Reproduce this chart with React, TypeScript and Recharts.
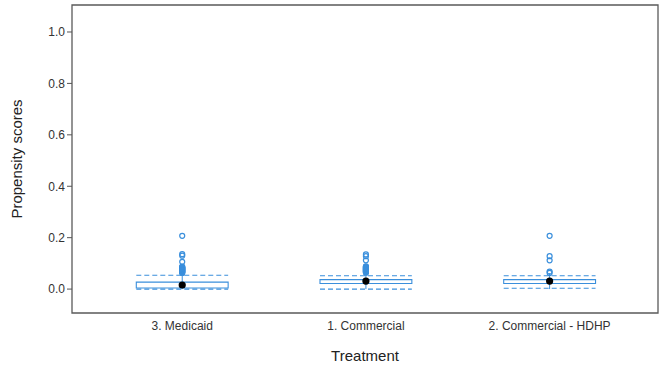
import React from 'react'
import {
  ScatterChart, Scatter, XAxis, YAxis, ReferenceArea, ReferenceLine,
} from 'recharts'

const categories = ['3. Medicaid', '1. Commercial', '2. Commercial - HDHP']
const positions = [1, 2, 3]
const q1 = [0.004, 0.022, 0.022]
const q3 = [0.027, 0.037, 0.037]
const whiskerLow = [0.0, 0.0, 0.0]
const whiskerHigh = [0.06, 0.06, 0.062]
const means = [0.016, 0.031, 0.031]
const upperDash = [0.054, 0.052, 0.052]
const lowerDash = [0.0, 0.0, 0.003]
const outliers = [
  [0.207, 0.136, 0.130, 0.106, 0.087, 0.0855, 0.084, 0.0825, 0.081, 0.0795, 0.078, 0.0765, 0.075,
    0.0735, 0.072, 0.0705, 0.069, 0.0675, 0.066, 0.0645, 0.063],
  [0.135, 0.128, 0.112, 0.088, 0.0865, 0.085, 0.0835, 0.082, 0.0805, 0.079, 0.0775, 0.076, 0.0745,
    0.073, 0.0715, 0.070, 0.0685, 0.067, 0.0655, 0.064],
  [0.207, 0.128, 0.112, 0.068, 0.063],
]
const yTicks = [0, 0.2, 0.4, 0.6, 0.8, 1.0]

const BLUE = '#3a8fdc'
const HALF = 0.25
const X_DOMAIN: [number, number] = [0.4, 3.59]
const Y_DOMAIN: [number, number] = [-0.093, 1.105]

const outlierData = outliers.flatMap((vals, i) => vals.map(v => ({ x: positions[i], y: v })))
const meanData = means.map((m, i) => ({ x: positions[i], y: m }))

const OpenCircle = (p: any) => (
  <circle cx={p.cx} cy={p.cy} r={2.5} fill="none" stroke={BLUE} strokeWidth={1.2} />
)
const MeanDot = (p: any) => <circle cx={p.cx} cy={p.cy} r={3.6} fill="#000" />

export default function App() {
  return (
    <div style={{ position: 'absolute', left: 0, top: 0, background: '#fff' }}>
      <ScatterChart width={659} height={368} margin={{ top: 5, right: 1, left: 0, bottom: 0 }}>
        <XAxis
          type="number"
          dataKey="x"
          domain={X_DOMAIN}
          ticks={positions}
          tickFormatter={v => categories[positions.indexOf(v)] ?? ''}
          axisLine={false}
          tickLine={false}
          height={55}
          tick={{ fontSize: 12, fill: '#333', fontFamily: 'Liberation Sans' }}
          label={{ value: 'Treatment', position: 'insideBottom', offset: 7, fontSize: 15, fill: '#222', fontFamily: 'Liberation Sans' }}
          allowDataOverflow
        />
        <YAxis
          type="number"
          dataKey="y"
          domain={Y_DOMAIN}
          ticks={yTicks}
          tickFormatter={v => v.toFixed(1)}
          axisLine={false}
          tickLine={{ stroke: '#555' }}
          tickSize={5}
          width={72}
          tick={{ fontSize: 12, fill: '#333', fontFamily: 'Liberation Sans' }}
          label={{ value: 'Propensity scores', angle: -90, position: 'center', dx: -19, fontSize: 15, fill: '#222', fontFamily: 'Liberation Sans' }}
          allowDataOverflow
        />
        <ReferenceArea x1={X_DOMAIN[0]} x2={X_DOMAIN[1]} y1={Y_DOMAIN[0]} y2={Y_DOMAIN[1]} fill="none" stroke="#5a5a5a" strokeWidth={1.3} fillOpacity={0} />
        {positions.map((p, i) => (
          <ReferenceLine key={'wh' + i} segment={[{ x: p, y: q3[i] }, { x: p, y: whiskerHigh[i] }]} stroke={BLUE} strokeWidth={1} />
        ))}
        {positions.map((p, i) => (
          <ReferenceLine key={'wl' + i} segment={[{ x: p, y: whiskerLow[i] }, { x: p, y: q1[i] }]} stroke={BLUE} strokeWidth={1} />
        ))}
        {positions.map((p, i) => (
          <ReferenceArea key={'b' + i} x1={p - HALF} x2={p + HALF} y1={q1[i]} y2={q3[i]} fill="#ffffff" fillOpacity={1} stroke={BLUE} strokeWidth={1.1} />
        ))}
        {positions.map((p, i) => (
          <ReferenceLine key={'du' + i} segment={[{ x: p - HALF, y: upperDash[i] }, { x: p + HALF, y: upperDash[i] }]} stroke={BLUE} strokeWidth={1.1} strokeDasharray="5 3" />
        ))}
        {positions.map((p, i) => (
          <ReferenceLine key={'dl' + i} segment={[{ x: p - HALF, y: lowerDash[i] }, { x: p + HALF, y: lowerDash[i] }]} stroke={BLUE} strokeWidth={1.1} strokeDasharray="5 3" />
        ))}
        <Scatter data={outlierData} shape={OpenCircle} isAnimationActive={false} />
        <Scatter data={meanData} shape={MeanDot} isAnimationActive={false} />
      </ScatterChart>
    </div>
  )
}
